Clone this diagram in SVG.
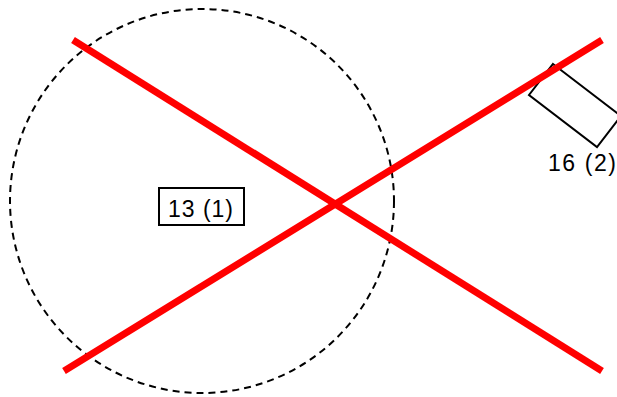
<svg xmlns="http://www.w3.org/2000/svg" width="617" height="397" viewBox="0 0 617 397">
<style>
.lbl{font-family:"Liberation Sans",Arial,sans-serif;font-size:23px;fill:#000}
.red{stroke:#ff0000;stroke-width:7;fill:none}
</style>
<rect width="617" height="397" fill="#fff"/>
<g id="circle"><circle cx="202" cy="201" r="192" fill="none" stroke="#000" stroke-width="2" stroke-dasharray="7 5"/></g>
<g id="node13"><rect x="159" y="188" width="85" height="37" fill="#fff" stroke="#000" stroke-width="2"/><text class="lbl" x="168" y="217" textLength="65" lengthAdjust="spacing">13 (1)</text></g>
<g id="node16"><polygon points="553,64 621,116 597,147 529,95" fill="#fff" stroke="#000" stroke-width="2"/><text class="lbl" x="548" y="171" textLength="68" lengthAdjust="spacing">16 (2)</text></g>
<g id="connectors">
<line class="red" x1="73" y1="40" x2="602" y2="371"/>
<line class="red" x1="64" y1="371" x2="602" y2="40"/>
</g>
</svg>
